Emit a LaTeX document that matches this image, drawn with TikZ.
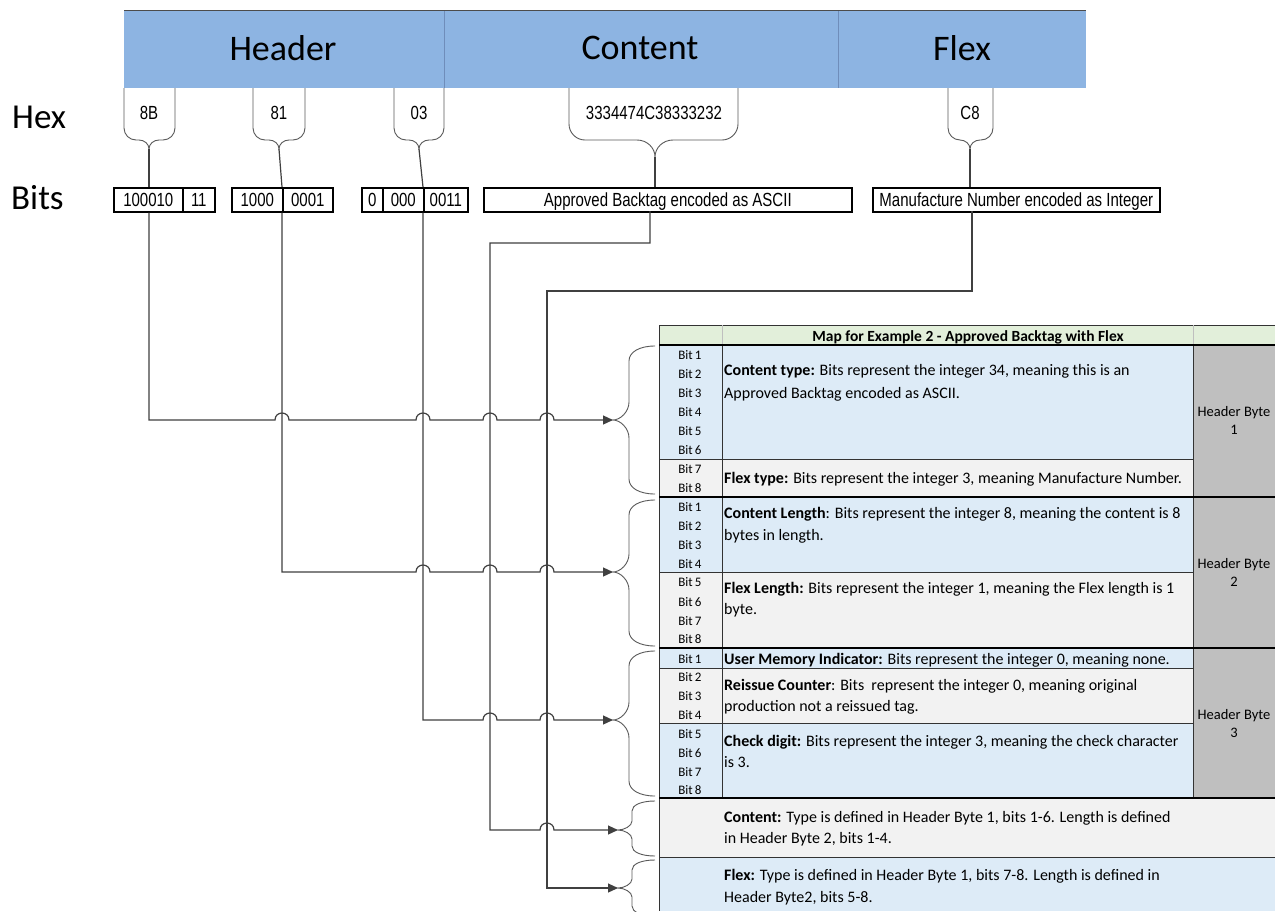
\documentclass[tikz,border=0pt]{standalone}
\usepackage{fontspec}
\setmainfont{Carlito}
\newfontfamily\arialn[FakeStretch=0.79]{Liberation Sans}
\usetikzlibrary{arrows.meta}
\definecolor{bannerblue}{HTML}{8DB4E2}
\definecolor{bannerline}{HTML}{6F8DBA}
\definecolor{rowblue}{HTML}{DDEBF7}
\definecolor{rowgray}{HTML}{F2F2F2}
\definecolor{hbgray}{HTML}{BFBFBF}
\definecolor{titlegreen}{HTML}{E2EFDA}
\definecolor{connc}{HTML}{404040}
\definecolor{bracec}{HTML}{5A5A5A}
\tikzset{
  bigtxt/.style={font=\fontsize{36}{40}\selectfont, inner sep=0pt},
  sidetxt/.style={font=\fontsize{35}{40}\selectfont, inner sep=0pt, anchor=west},
  hextxt/.style={font=\arialn\fontsize{19}{21}\selectfont, inner sep=0pt},
  bitbox/.style={draw=black, line width=1.6pt, minimum height=24pt, inner sep=0pt, text height=13.6pt, text depth=0pt, anchor=north west, font=\arialn\fontsize{19}{21}\selectfont},
  brc/.style={draw=bracec, line width=0.9pt},
  conn/.style={draw=connc, line width=1.2pt},
  arr/.style={conn, -{Triangle[length=10pt,width=9pt]}},
  tline/.style={draw=black!80, line width=0.9pt},
  tthick/.style={draw=black, line width=2.2pt},
  desc/.style={anchor=base west, inner sep=0pt, font=\fontsize{16}{18}\selectfont},
  bitlbl/.style={anchor=base, inner sep=0pt, font=\fontsize{13}{15}\selectfont},
  hblbl/.style={anchor=base, inner sep=0pt, font=\fontsize{14.5}{16}\selectfont},
}
% downward brace: a c b m r tr p
\newcommand{\myhbrace}[7]{%
 \draw[brc] (#1,88) -- (#1,{#4-#5}) .. controls (#1,{#4-0.45*#5}) and ({#1+0.45*#5},#4) .. ({#1+#5},#4)
   -- ({#2-#6},#4) .. controls ({#2-0.45*#6},#4) and (#2,{#4+0.45*(#7-#4)}) .. (#2,#7)
   .. controls (#2,{#4+0.45*(#7-#4)}) and ({#2+0.45*#6},#4) .. ({#2+#6},#4)
   -- ({#3-#5},#4) .. controls ({#3-0.45*#5},#4) and (#3,{#4-0.45*#5}) .. (#3,{#4-#5}) -- (#3,88);}
% left-pointing brace: Y1 Yt Y2 X T r tr   (right end x = 655)
\newcommand{\mytbrace}[7]{%
 \draw[brc] (655,#1) .. controls ({655-0.6*(655-#4)},#1) and (#4,{#1+0.4*#6}) .. (#4,{#1+#6})
   -- (#4,{#2-#7}) .. controls (#4,{#2-0.45*#7}) and ({#5+0.45*(#4-#5)},#2) .. (#5,#2)
   .. controls ({#5+0.45*(#4-#5)},#2) and (#4,{#2+0.45*#7}) .. (#4,{#2+#7})
   -- (#4,{#3-#6}) .. controls (#4,{#3-0.4*#6}) and ({655-0.6*(655-#4)},#3) .. (655,#3);}
\begin{document}
\begin{tikzpicture}[x=1pt,y=-1pt]
\useasboundingbox (0,0) rectangle (1275,911);
\fill[white] (0,0) rectangle (1275,911);

% ---------- banner ----------
\fill[bannerblue] (124,10) rectangle (1086,88);
\draw[bannerline, line width=0.8pt] (444,10) -- (444,88) (838,10) -- (838,88);
\draw[black!70, line width=0.8pt] (124,10) -- (1086,10);
\node[bigtxt] (hdr) at (283,48) {Header};
\node[bigtxt] (cnt) at (640,48) {Content};
\node[bigtxt] (flx) at (962,48) {Flex};

\node[sidetxt] (hexl) at (12,117) {Hex};
\node[sidetxt] (bitsl) at (11,198) {Bits};

% ---------- hex braces ----------
\myhbrace{124}{149}{175}{140}{12}{10}{149}
\myhbrace{253}{279}{305}{140}{12}{10}{149}
\myhbrace{394}{419}{444}{140}{12}{10}{149}
\myhbrace{569}{655}{738}{140}{16}{18}{157}
\myhbrace{948}{970}{993}{140}{12}{10}{149}
\coordinate (tA) at (149,149);
\coordinate (tB) at (279,149);
\coordinate (tC) at (419,149);
\coordinate (tD) at (655,157);
\coordinate (tE) at (970,149);

\node[hextxt] (h1) at (149,113) {8B};
\node[hextxt] (h2) at (279,113) {81};
\node[hextxt] (h3) at (419,113) {03};
\node[hextxt] (h4) at (654,113) {3334474C38333232};
\node[hextxt] (h5) at (970,113) {C8};

% ---------- bit boxes ----------
\node[bitbox, minimum width=69pt] (b1a) at (113,187) {100010};
\node[bitbox, minimum width=32pt] (b1b) at (182,187) {11};
\node[bitbox, minimum width=51pt] (b2a) at (231,187) {1000};
\node[bitbox, minimum width=50pt] (b2b) at (282,187) {0001};
\node[bitbox, minimum width=21pt] (b3a) at (361,187) {0};
\node[bitbox, minimum width=41pt] (b3b) at (382,187) {000};
\node[bitbox, minimum width=44pt] (b3c) at (423,187) {0011};
\node[bitbox, minimum width=368pt] (b4) at (483,187) {Approved Backtag encoded as ASCII};
\node[bitbox, minimum width=287pt] (b5) at (872,187) {Manufacture Number encoded as Integer};
\coordinate (o4) at (650,211);
\coordinate (o5) at (972,211);

% brace tips to boxes
\draw[conn] (tA) -- (tA |- b1a.north);
\draw[conn] (tB) -- (b2b.north west);
\draw[conn] (tC) -- (b3c.north west);
\draw[conn] (tD) -- (tD |- b4.north);
\draw[conn] (tE) -- (tE |- b5.north);

% ---------- table ----------
\fill[titlegreen] (659,325) rectangle (1275,345);
\fill[rowblue] (659,345) rectangle (1193,459);
\fill[rowgray] (659,459) rectangle (1193,497);
\fill[rowblue] (659,497) rectangle (1193,572);
\fill[rowgray] (659,572) rectangle (1193,648);
\fill[rowblue] (659,648) rectangle (1193,668);
\fill[rowgray] (659,668) rectangle (1193,723);
\fill[rowblue] (659,723) rectangle (1193,798);
\fill[rowgray] (659,798) rectangle (1275,857);
\fill[rowblue] (659,857) rectangle (1275,911);
\fill[hbgray] (1193,345) rectangle (1275,798);
\draw[tline] (659,325) -- (1275,325);
\draw[tline] (659,325) -- (659,911);
\draw[tline] (722,345) -- (722,798);
\draw[tline] (1193,345) -- (1193,798);
\draw[black!25, line width=0.6pt] (722,325) -- (722,345) (1193,325) -- (1193,345);
\draw[tline] (659,459) -- (1193,459);
\draw[tline] (659,572) -- (1193,572);
\draw[tline] (659,668) -- (1193,668);
\draw[tline] (659,723) -- (1193,723);
\draw[tline] (659,857) -- (1275,857);
\draw[tthick] (659,345) -- (1275,345);
\draw[tthick] (659,497) -- (1275,497);
\draw[tthick] (659,648) -- (1275,648);
\draw[tthick] (659,798) -- (1275,798);

\node[anchor=base, inner sep=0pt, font=\bfseries\fontsize{15.5}{17}\selectfont] (ttl) at (968,341) {Map for Example 2 - Approved Backtag with Flex};

\foreach \n/\y in {1/359,2/378,3/397,4/416,5/435,6/454,7/473,8/492}
  \node[bitlbl] (ba\n) at (690,\y) {Bit\,\n};
\foreach \n/\y in {1/511,2/530,3/549,4/568,5/586,6/606,7/625,8/643}
  \node[bitlbl] (bb\n) at (690,\y) {Bit\,\n};
\foreach \n/\y in {1/663,2/681,3/700,4/719,5/738,6/757,7/776,8/794}
  \node[bitlbl] (bc\n) at (690,\y) {Bit\,\n};

\node[hblbl] (hb1a) at (1234,416) {Header Byte};
\node[hblbl] (hb1b) at (1234,434) {1};
\node[hblbl] (hb2a) at (1234,568) {Header Byte};
\node[hblbl] (hb2b) at (1234,586) {2};
\node[hblbl] (hb3a) at (1234,719) {Header Byte};
\node[hblbl] (hb3b) at (1234,737) {3};

\node[desc] (d1a) at (724,375) {\textbf{Content type:} Bits represent the integer 34, meaning this is an};
\node[desc] (d1b) at (724,398) {Approved Backtag encoded as ASCII.};
\node[desc] (d2a) at (724,483) {\textbf{Flex type:} Bits represent the integer 3, meaning Manufacture Number.};
\node[desc] (d3a) at (724,518) {\textbf{Content Length}: Bits represent the integer 8, meaning the content is 8};
\node[desc] (d3b) at (724,540) {bytes in length.};
\node[desc] (d4a) at (724,593) {\textbf{Flex Length:} Bits represent the integer 1, meaning the Flex length is 1};
\node[desc] (d4b) at (724,614) {byte.};
\node[desc] (d5a) at (724,664) {\textbf{User Memory Indicator:} Bits represent the integer 0, meaning none.};
\node[desc] (d6a) at (724,690) {\textbf{Reissue Counter}: Bits\ \ represent the integer 0, meaning original};
\node[desc] (d6b) at (724,711) {production not a reissued tag.};
\node[desc] (d7a) at (724,746) {\textbf{Check digit:} Bits represent the integer 3, meaning the check character};
\node[desc] (d7b) at (724,767) {is 3.};
\node[desc] (d8a) at (724,822) {\textbf{Content:} Type is defined in Header Byte 1, bits 1-6. Length is defined};
\node[desc] (d8b) at (724,843) {in Header Byte 2, bits 1-4.};
\node[desc] (d9a) at (724,880) {\textbf{Flex:} Type is defined in Header Byte 1, bits 7-8. Length is defined in};
\node[desc] (d9b) at (724,902) {Header Byte2, bits 5-8.};

% ---------- table braces ----------
\mytbrace{346}{420}{494}{629}{613}{15}{18}
\mytbrace{500}{572}{646}{629}{613}{15}{18}
\mytbrace{651}{720}{796}{629}{613}{15}{18}
\mytbrace{801}{830}{856}{632}{618}{10}{9}
\mytbrace{860}{888}{916}{632}{618}{10}{9}
\coordinate (bt1) at (613,420);
\coordinate (bt2) at (613,572);
\coordinate (bt3) at (613,720);
\coordinate (bt4) at (618,830);
\coordinate (bt5) at (618,888);

% ---------- connectors ----------
\draw[arr] (o4) -- (650,243) -- (490,243) -- (490,830) -- (540,830)
   .. controls (540,820.7) and (554,820.7) .. (554,830) -- (bt4);
\draw[arr] (o5) -- (972,291) -- (547,291) -- (547,888) -- (bt5);
\draw[arr] (b1a.south -| tA) -- (149,420) -- (275,420)
   .. controls (275,410.7) and (289,410.7) .. (289,420) -- (416,420)
   .. controls (416,410.7) and (430,410.7) .. (430,420) -- (483,420)
   .. controls (483,410.7) and (497,410.7) .. (497,420) -- (540,420)
   .. controls (540,410.7) and (554,410.7) .. (554,420) -- (bt1);
\draw[arr] (b2b.south west) -- (282,572) -- (416,572)
   .. controls (416,562.7) and (430,562.7) .. (430,572) -- (483,572)
   .. controls (483,562.7) and (497,562.7) .. (497,572) -- (540,572)
   .. controls (540,562.7) and (554,562.7) .. (554,572) -- (bt2);
\draw[arr] (b3c.south west) -- (423,720) -- (483,720)
   .. controls (483,710.7) and (497,710.7) .. (497,720) -- (540,720)
   .. controls (540,710.7) and (554,710.7) .. (554,720) -- (bt3);
\end{tikzpicture}
\end{document}
